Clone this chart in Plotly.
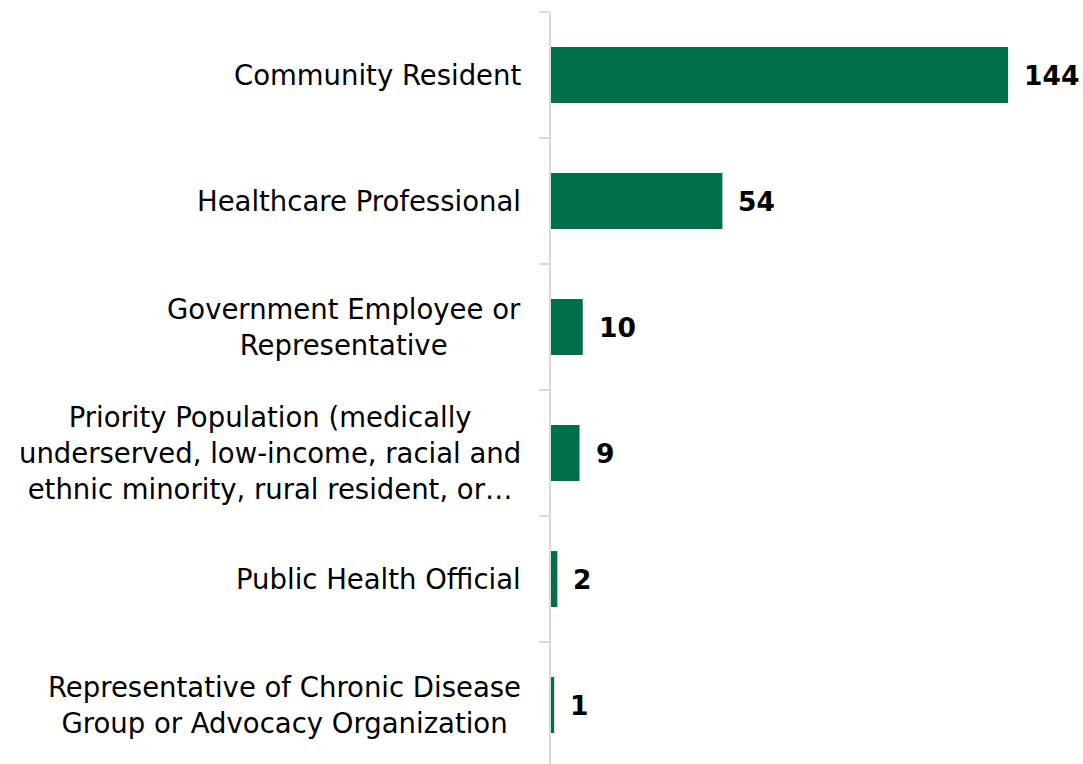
import plotly.graph_objects as go

# Respondent roles and counts (top to bottom)
categories = [
    "Community Resident",
    "Healthcare Professional",
    "Government Employee or<br>Representative",
    "Priority Population (medically<br>underserved, low-income, racial and<br>ethnic minority, rural resident, or…",
    "Public Health Official",
    "Representative of Chronic Disease<br>Group or Advocacy Organization",
]
counts = [144, 54, 10, 9, 2, 1]

BAR_COLOR = "#00704A"
FONT = "DejaVu Sans"

# reverse so the first category sits at the top
cats_rev = categories[::-1]
vals_rev = counts[::-1]

fig = go.Figure(
    go.Bar(
        x=vals_rev,
        y=cats_rev,
        orientation="h",
        marker=dict(color=BAR_COLOR, line=dict(width=0)),
        width=0.444,
        hoverinfo="skip",
    )
)

annotations = []
for c, v in zip(cats_rev, vals_rev):
    # category label, centred lines, right edge left of the axis
    annotations.append(
        dict(
            x=0, xref="paper", y=c, yref="y",
            text=c, showarrow=False,
            xanchor="right", yanchor="middle", align="center",
            xshift=-28,
            font=dict(family=FONT, size=27.5, color="#000000"),
        )
    )
    # value label right of the bar
    annotations.append(
        dict(
            x=v, xref="x", y=c, yref="y",
            text=f"<b>{v}</b>", showarrow=False,
            xanchor="left", yanchor="middle",
            xshift=14,
            font=dict(family=FONT, size=26.5, color="#000000"),
        )
    )

fig.update_layout(
    width=1083,
    height=764,
    margin=dict(l=551, r=0, t=12, b=0),
    paper_bgcolor="white",
    plot_bgcolor="white",
    showlegend=False,
    bargap=0.556,
    annotations=annotations,
    xaxis=dict(
        range=[0, 167.6],
        visible=False,
        fixedrange=True,
    ),
    yaxis=dict(
        range=[-0.468, 5.5],
        showticklabels=False,
        showline=True,
        linecolor="#d9d9d9",
        linewidth=1.5,
        ticks="outside",
        ticklen=10,
        tickcolor="#d9d9d9",
        tickwidth=1.5,
        tickson="boundaries",
        showgrid=False,
        zeroline=False,
        fixedrange=True,
    ),
)

fig.write_html("out.html")
